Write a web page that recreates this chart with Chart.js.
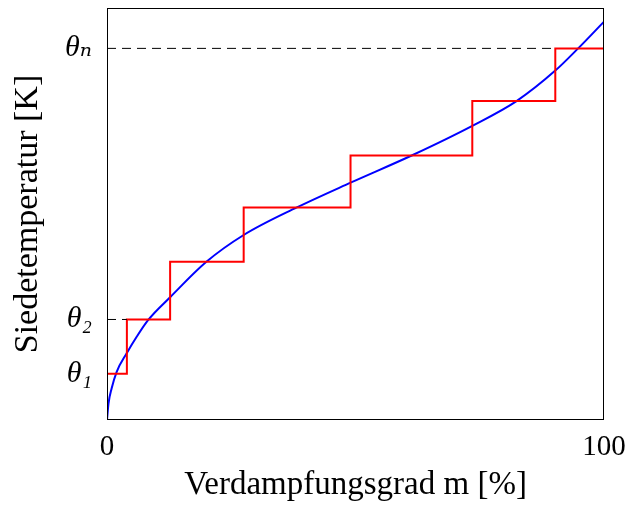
<!DOCTYPE html>
<html>
<head>
<meta charset="utf-8">
<script src="https://cdn.jsdelivr.net/npm/chart.js@4.4.1/dist/chart.umd.min.js"></script>
<style>
  html, body { margin: 0; padding: 0; background: #fff; }
  #wrap { width: 627px; height: 505px; }
</style>
</head>
<body>
<div id="wrap"><canvas id="chart"></canvas></div>
<script>
// boiling curve (blue)
const curveX = [0, 0.3, 0.94, 1.95, 3.96, 5.97, 8.3, 12.7, 20.0, 27.5, 38.2, 49.0, 61.3, 73.5, 82.4, 90.2, 94.8, 100];
const curveY = [0, 4.0, 7.7, 11.7, 16.2, 20.2, 24.3, 29.8, 38.4, 44.9, 51.6, 57.6, 64.2, 71.4, 77.4, 84.8, 90.2, 96.7];

// stepwise distillation (red)
const stepX = [0, 4.0, 12.7, 27.5, 49.0, 73.5, 90.2, 100];
const stepY = [11.2, 24.4, 38.4, 51.6, 64.2, 77.4, 90.2, 90.2];

// y tick labels
const thetaValues = [11.2, 24.4, 90.2];
const thetaLabels = ['θ₁', 'θ₂', 'θₙ'];

// x tick labels
const xTicks = [0, 100];

const toPoints = (xs, ys) => xs.map((x, i) => ({ x: x, y: ys[i] }));

const serif = '"Liberation Serif", "DejaVu Serif", serif';

const frame = {
    id: 'frame',
    afterDatasetsDraw(chart) {
        const a = chart.chartArea;
        const ctx = chart.ctx;
        ctx.save();
        ctx.strokeStyle = '#000';
        ctx.lineWidth = 1;
        ctx.strokeRect(a.left + 0.5, a.top + 0.5, a.right - a.left - 1, a.bottom - a.top - 1);
        ctx.restore();
    }
};

new Chart(document.getElementById('chart'), {
    type: 'line',
    data: {
        datasets: [
            {
                data: toPoints([0, stepX[6]], [thetaValues[2], thetaValues[2]]),
                borderColor: '#000',
                borderWidth: 1,
                borderDash: [9, 6],
                pointRadius: 0
            },
            {
                data: toPoints([0, stepX[1]], [thetaValues[1], thetaValues[1]]),
                borderColor: '#000',
                borderWidth: 1,
                borderDash: [9, 6],
                pointRadius: 0
            },
            {
                data: toPoints(stepX, stepY),
                borderColor: '#ff0000',
                borderWidth: 2,
                stepped: 'before',
                pointRadius: 0
            },
            {
                data: toPoints(curveX, curveY),
                borderColor: '#0000ff',
                borderWidth: 2,
                cubicInterpolationMode: 'monotone',
                pointRadius: 0
            }
        ]
    },
    options: {
        responsive: true,
        maintainAspectRatio: false,
        animation: false,
        layout: { padding: { top: 8, right: 23, left: 0, bottom: 0 } },
        plugins: { legend: { display: false }, tooltip: { enabled: false } },
        scales: {
            x: {
                type: 'linear',
                min: 0,
                max: 100,
                afterBuildTicks: (scale) => { scale.ticks = xTicks.map(v => ({ value: v })); },
                afterFit: (scale) => {
                    scale.height = 85;
                    scale.paddingLeft = 0;
                    scale.paddingRight = 0;
                },
                grid: { display: false },
                border: { display: false },
                ticks: {
                    color: '#000',
                    font: { family: serif, size: 29 },
                    padding: 2,
                    maxRotation: 0
                },
                title: {
                    display: true,
                    text: 'Verdampfungsgrad m [%]',
                    color: '#000',
                    font: { family: serif, size: 33 },
                    padding: { top: 0, bottom: 0 }
                }
            },
            y: {
                type: 'linear',
                min: 0,
                max: 100,
                afterBuildTicks: (scale) => { scale.ticks = thetaValues.map(v => ({ value: v })); },
                afterFit: (scale) => {
                    scale.width = 107;
                    scale.paddingTop = 0;
                    scale.paddingBottom = 0;
                },
                grid: { display: false },
                border: { display: false },
                ticks: {
                    color: '#000',
                    font: { family: serif, size: 30, style: 'italic' },
                    padding: 7,
                    callback: (value) => thetaLabels[thetaValues.indexOf(value)]
                },
                title: {
                    display: true,
                    text: 'Siedetemperatur [K]',
                    color: '#000',
                    font: { family: serif, size: 34 },
                    padding: { top: 8, bottom: 0 }
                }
            }
        }
    },
    plugins: [frame]
});
</script>
</body>
</html>
